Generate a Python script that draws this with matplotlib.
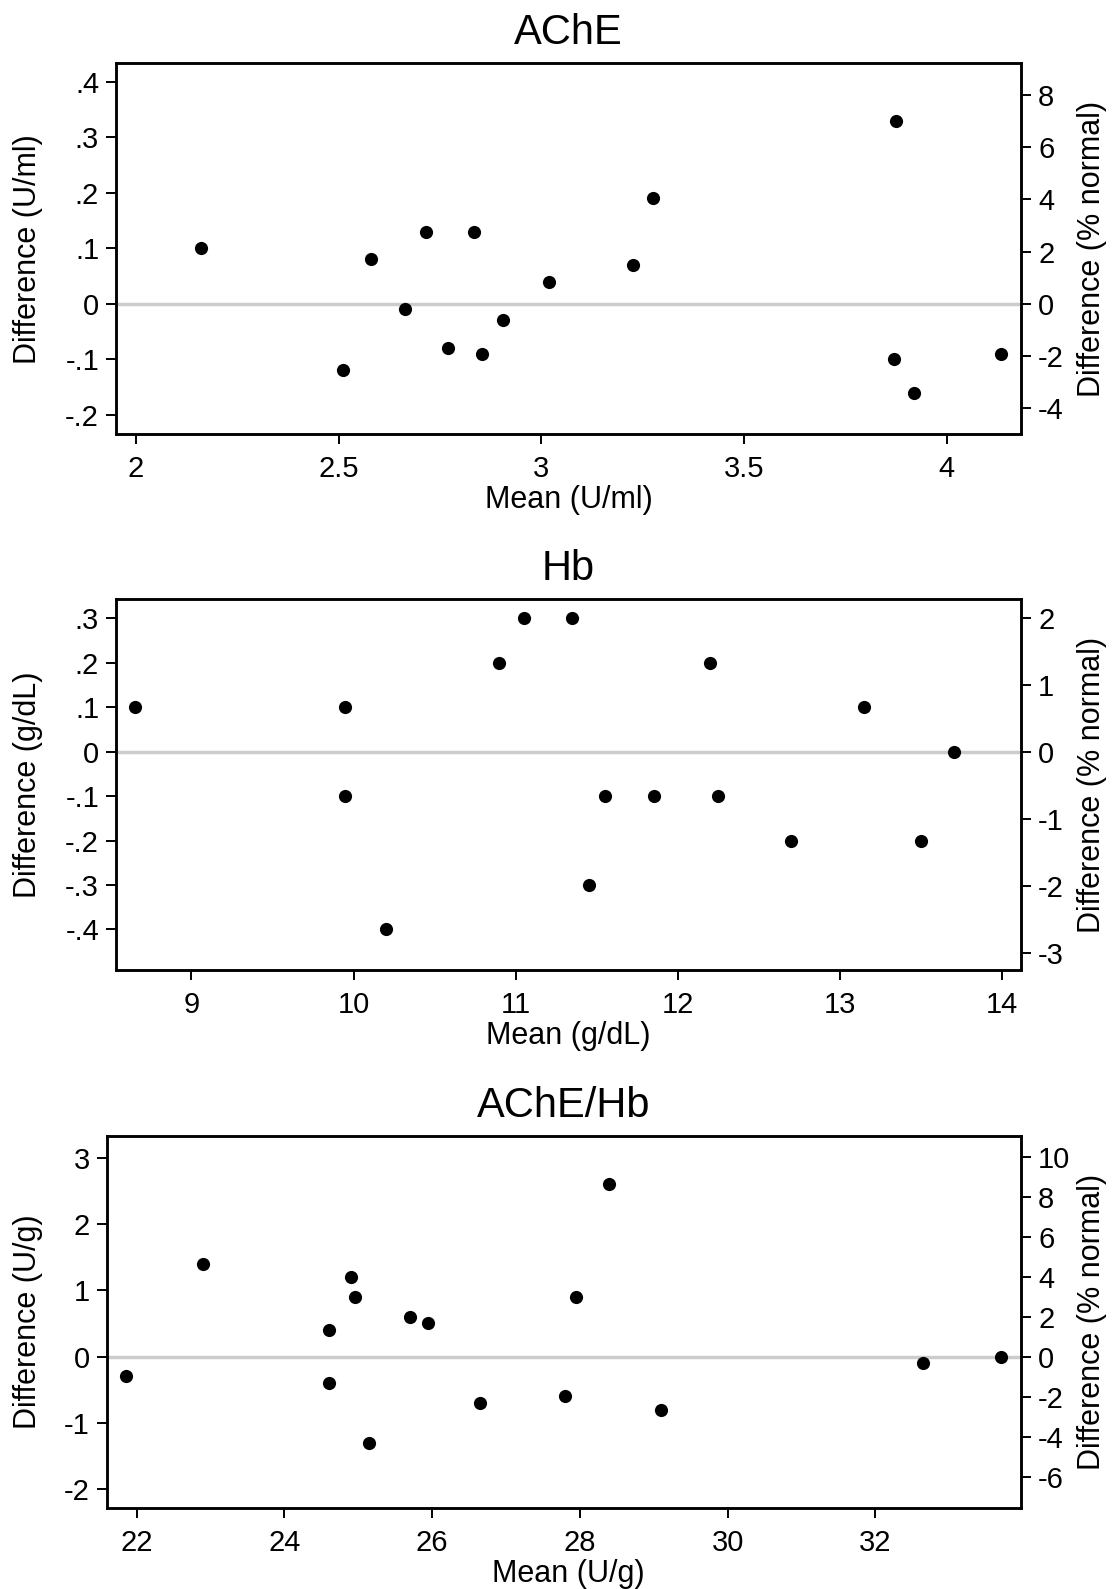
import numpy as np
import matplotlib
matplotlib.use("Agg")
import matplotlib.pyplot as plt

plt.rcParams['font.family'] = ['Liberation Sans', 'DejaVu Sans']

# AChE (U/ml)
ache_mean = [2.16, 2.51, 2.58, 2.665, 2.715, 2.77, 2.835, 2.855, 2.905, 3.02,
             3.225, 3.275, 3.875, 3.87, 3.92, 4.135]
ache_diff = [0.10, -0.12, 0.08, -0.01, 0.13, -0.08, 0.13, -0.09, -0.03, 0.04,
             0.07, 0.19, 0.33, -0.10, -0.16, -0.09]

# Hb (g/dL)
hb_mean = [8.655, 9.95, 9.95, 10.2, 10.9, 11.05, 11.35, 11.45, 11.55, 11.85,
           12.2, 12.25, 12.7, 13.15, 13.5, 13.7]
hb_diff = [0.1, 0.1, -0.1, -0.4, 0.2, 0.3, 0.3, -0.3, -0.1, -0.1,
           0.2, -0.1, -0.2, 0.1, -0.2, 0.0]

# AChE/Hb (U/g)
ratio_mean = [21.85, 22.9, 24.6, 24.6, 24.9, 24.95, 25.15, 25.7, 25.95, 26.65,
              27.8, 27.95, 28.4, 29.1, 32.65, 33.7]
ratio_diff = [-0.3, 1.4, 0.4, -0.4, 1.2, 0.9, -1.3, 0.6, 0.5, -0.7,
              -0.6, 0.9, 2.6, -0.8, -0.1, 0.0]

titles = ['AChE', 'Hb', 'AChE/Hb']
xlabels = ['Mean (U/ml)', 'Mean (g/dL)', 'Mean (U/g)']
ylabels = ['Difference (U/ml)', 'Difference (g/dL)', 'Difference (U/g)']
xticks = [[2, 2.5, 3, 3.5, 4], [9, 10, 11, 12, 13, 14], [22, 24, 26, 28, 30, 32]]
yticks = [[-0.2, -0.1, 0, 0.1, 0.2, 0.3, 0.4],
          [-0.4, -0.3, -0.2, -0.1, 0, 0.1, 0.2, 0.3],
          [-2, -1, 0, 1, 2, 3]]
rticks = [[-4, -2, 0, 2, 4, 6, 8], [-3, -2, -1, 0, 1, 2],
          [-6, -4, -2, 0, 2, 4, 6, 8, 10]]
# % normal per unit of difference
pct_factor = [21.25, 6.63, 3.315]

xlims = [(1.951, 4.184), (8.535, 14.118), (21.595, 33.975)]
ylims = [(-0.235, 0.433), (-0.492, 0.343), (-2.288, 3.327)]

W, H = 1116, 1589
boxes = [(116, 63.3, 1021.3, 434.3),
         (116, 599.3, 1021.3, 970.3),
         (106.7, 1136, 1021.3, 1508.3)]

data = [(ache_mean, ache_diff), (hb_mean, hb_diff), (ratio_mean, ratio_diff)]

TICK_FS = 21


def stata_fmt(v):
    if abs(v) < 1e-9:
        return '0'
    s = f'{v:g}'
    s = s.replace('-0.', '-.')
    if s.startswith('0.'):
        s = s[1:]
    return s


fig = plt.figure(figsize=(W / 100, H / 100), dpi=100)

for i in range(3):
    l, t, r, b = boxes[i]
    ax = fig.add_axes([l / W, 1 - b / H, (r - l) / W, (b - t) / H])
    x, y = data[i]
    ax.axhline(0, color='#cccccc', lw=2.5, zorder=1)
    ax.scatter(x, y, s=90, color='black', linewidths=0, zorder=3)
    ax.set_xlim(*xlims[i])
    ax.set_ylim(*ylims[i])

    ax2 = ax.twinx()
    k = pct_factor[i]
    ax2.set_ylim(ylims[i][0] * k, ylims[i][1] * k)

    for a in (ax, ax2):
        for sp in a.spines.values():
            sp.set_linewidth(1.8)
        a.tick_params(length=7.2, width=1.4, direction='out')

    ax.set_xticks(xticks[i])
    ax.set_xticklabels([f'{v:g}' for v in xticks[i]], fontsize=TICK_FS)
    ax.set_yticks(yticks[i])
    ax.set_yticklabels([stata_fmt(v) for v in yticks[i]], fontsize=TICK_FS)
    ax2.set_yticks(rticks[i])
    ax2.set_yticklabels([f'{v:g}' for v in rticks[i]], fontsize=TICK_FS)
    ax.tick_params(axis='x', pad=8)
    ax.tick_params(axis='y', pad=5)
    ax2.tick_params(axis='y', pad=5)

    ax.set_title(titles[i], fontsize=30, pad=14)
    ax.set_xlabel(xlabels[i], fontsize=22)
    ax.set_ylabel(ylabels[i], fontsize=22)
    ax2.set_ylabel('Difference (% normal)', fontsize=22)

    wpx = r - l
    ax.xaxis.set_label_coords(0.5 + (568.5 - (l + r) / 2) / wpx, -(500 - 434.3) / 371)
    ax.yaxis.set_label_coords((28 - l) / wpx, 0.5)
    ax2.yaxis.set_label_coords((1092 - l) / wpx, 0.5)
    ax.xaxis.label.set_verticalalignment('center')
    ax.yaxis.label.set_verticalalignment('center')
    ax2.yaxis.label.set_verticalalignment('center')

fig.savefig('out.png', dpi=100, facecolor='white')
